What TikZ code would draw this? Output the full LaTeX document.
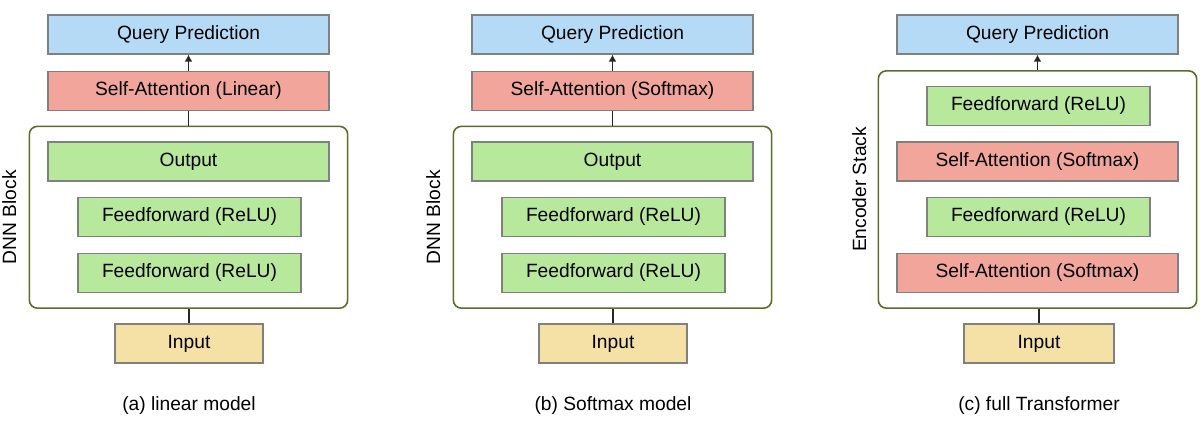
\documentclass[tikz,border=0pt]{standalone}
\usepackage{fontspec}
\setmainfont{Liberation Sans}
\usetikzlibrary{fit,arrows.meta}

\definecolor{qblue}{RGB}{180,218,245}
\definecolor{sared}{RGB}{242,166,155}
\definecolor{ffgreen}{RGB}{184,232,156}
\definecolor{inyellow}{RGB}{245,225,165}
\definecolor{edgegray}{RGB}{128,128,128}
\definecolor{blkolive}{RGB}{86,112,40}

\tikzset{
    box/.style={rectangle, draw=edgegray, line width=1.3pt, inner sep=0pt,
        minimum height=39pt, text height=14pt, text depth=4pt,
        font=\fontsize{19.2}{22}\selectfont},
    qbox/.style={box, fill=qblue, minimum width=281pt},
    sabox/.style={box, fill=sared, minimum width=281pt},
    outbox/.style={box, fill=ffgreen, minimum width=281pt},
    ffbox/.style={box, fill=ffgreen, minimum width=223pt},
    inbox/.style={box, fill=inyellow, minimum width=148pt},
    blockbox/.style={rectangle, rounded corners=8pt, draw=blkolive, line width=1.6pt,
        inner xsep=18pt, inner ysep=15pt},
    sidelabel/.style={rotate=90, anchor=south, inner sep=0pt,
        font=\fontsize{19.2}{22}\selectfont},
    caption/.style={font=\fontsize{19.2}{22}\selectfont},
    conn/.style={draw=black!85, line width=1.6pt},
    tip/.style={-{Latex[length=7pt,width=8pt]}},
}

\begin{document}
\begin{tikzpicture}[x=1pt, y=-1pt]
    \useasboundingbox (0,0) rectangle (1200,422);
    % ---- panels (a) and (b): DNN block models ----
    \foreach \p/\dx/\att/\ptitle in {a/0/Linear/linear model, b/424/Softmax/Softmax model} {
        \node[qbox]   (q\p)  at (188.5+\dx, 34.5) {Query Prediction};
        \node[sabox]  (sa\p) at (188.5+\dx, 91)   {Self-Attention (\att)};
        \node[outbox] (o\p)  at (188.5+\dx, 161.5) {Output};
        \node[ffbox]  (f\p1) at (189.5+\dx, 217)  {Feedforward (ReLU)};
        \node[ffbox]  (f\p2) at (189.5+\dx, 273)  {Feedforward (ReLU)};
        \node[inbox]  (i\p)  at (189+\dx, 343.5)  {Input};
        \node[blockbox, fit=(o\p)(f\p2)] (blk\p) {};
        \node[sidelabel] (lbl\p) at ([xshift=-12pt]blk\p.west) {DNN Block};
        \node[caption] (cap\p) at (189+\dx, 406) {(\p) \ptitle};
        % connectors
        \draw[conn] (i\p.north) -- (i\p.north |- blk\p.south);
        \draw[conn] (blk\p.north) -- (sa\p.south);
        \draw[conn, tip] (sa\p.north) -- (q\p.south);
    }
    % ---- panel (c): full transformer ----
    \node[qbox] (qc) at (1037.5, 34.5) {Query Prediction};
    \foreach \k/\yy in {1/273, 3/161.5} {
        \node[sabox] (c\k) at (1037.5, \yy) {Self-Attention (Softmax)};
    }
    \foreach \k/\yy in {2/217, 4/106} {
        \node[ffbox] (c\k) at (1038.5, \yy) {Feedforward (ReLU)};
    }
    \node[inbox, minimum width=150pt] (ic) at (1039, 343.5) {Input};
    \node[blockbox, fit=(c4)(c3)(c1)] (blkc) {};
    \node[sidelabel] (lblc) at ([xshift=-11pt]blkc.west) {Encoder Stack};
    \node[caption] (capc) at (1039, 406) {(c) full Transformer};
    % connectors
    \draw[conn] (ic.north) -- (ic.north |- blkc.south);
    \draw[conn, tip] (blkc.north) -- (qc.south);
\end{tikzpicture}
\end{document}
